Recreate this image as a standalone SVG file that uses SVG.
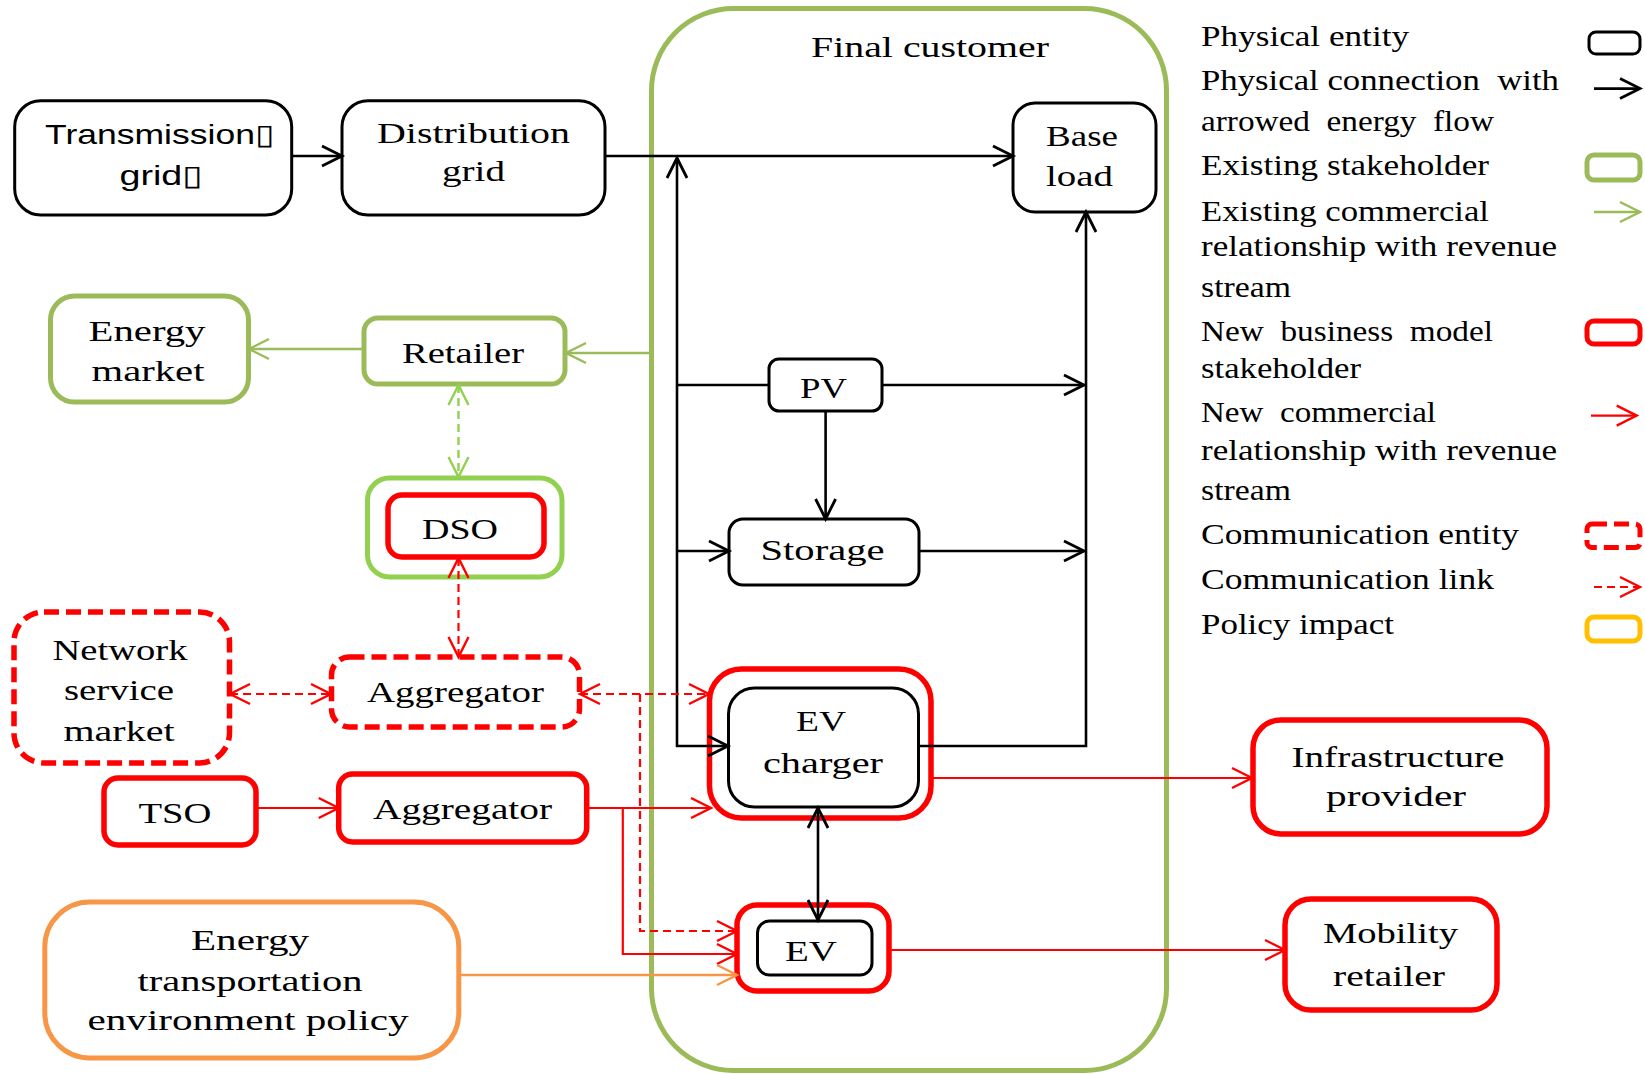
<svg xmlns="http://www.w3.org/2000/svg" width="1645" height="1074" viewBox="0 0 1645 1074">
<style>
text{font-family:"Liberation Serif","Times New Roman",serif;font-size:30px;fill:#000}
.m{text-anchor:middle}
.sans{font-family:"Liberation Sans",Arial,sans-serif;font-size:28px}
.bx{fill:#fff;stroke:#000;stroke-width:3}
.rx{fill:#fff;stroke:#f00;stroke-width:5.5}
.rd{fill:#fff;stroke:#f00;stroke-width:5.5;stroke-dasharray:15 7}
.gx{fill:#fff;stroke:#9BBB59;stroke-width:5}
.lgx{fill:#fff;stroke:#92D050;stroke-width:5}
.ox{fill:#fff;stroke:#F79646;stroke-width:5}
.cb{fill:none;stroke:#000;stroke-width:2.6}
.cr{fill:none;stroke:#f00;stroke-width:2.2}
.dash{stroke-dasharray:8 5}
.cg{fill:none;stroke:#9BBB59;stroke-width:2.4}
.clg{fill:none;stroke:#92D050;stroke-width:2.4}
.co{fill:none;stroke:#F79646;stroke-width:2.4}
</style>
<defs>
<marker id="ab" markerUnits="userSpaceOnUse" markerWidth="40" markerHeight="40" refX="0" refY="0" orient="auto-start-reverse" overflow="visible"><path d="M-20,-10 L0,0 L-20,10" fill="none" stroke="#000" stroke-width="2.8"/></marker>
<marker id="ar" markerUnits="userSpaceOnUse" markerWidth="40" markerHeight="40" refX="0" refY="0" orient="auto-start-reverse" overflow="visible"><path d="M-20,-10 L0,0 L-20,10" fill="none" stroke="#f00" stroke-width="2.4"/></marker>
<marker id="ag" markerUnits="userSpaceOnUse" markerWidth="40" markerHeight="40" refX="0" refY="0" orient="auto-start-reverse" overflow="visible"><path d="M-20,-10 L0,0 L-20,10" fill="none" stroke="#9BBB59" stroke-width="2.4"/></marker>
<marker id="alg" markerUnits="userSpaceOnUse" markerWidth="40" markerHeight="40" refX="0" refY="0" orient="auto-start-reverse" overflow="visible"><path d="M-20,-10 L0,0 L-20,10" fill="none" stroke="#92D050" stroke-width="2.4"/></marker>
<marker id="ao" markerUnits="userSpaceOnUse" markerWidth="40" markerHeight="40" refX="0" refY="0" orient="auto-start-reverse" overflow="visible"><path d="M-20,-10 L0,0 L-20,10" fill="none" stroke="#F79646" stroke-width="2.4"/></marker>
</defs>
<rect width="1645" height="1074" fill="#fff"/>

<g id="final-customer">
<rect x="651.5" y="8.5" width="515" height="1062" rx="82" fill="none" stroke="#9BBB59" stroke-width="5"/>
<text class="m" x="930" y="57" textLength="238" lengthAdjust="spacingAndGlyphs">Final customer</text>
</g>

<g id="transmission-grid">
<rect class="bx" x="14.7" y="100.7" width="277" height="114.3" rx="26"/>
<text class="m sans" x="159.5" y="144" textLength="229" lengthAdjust="spacingAndGlyphs">Transmission▯</text>
<text class="m sans" x="161" y="185" textLength="83" lengthAdjust="spacingAndGlyphs">grid▯</text>
</g>
<g id="distribution-grid">
<rect class="bx" x="342" y="100.7" width="263" height="114.3" rx="26"/>
<text class="m" x="473.5" y="143" textLength="193" lengthAdjust="spacingAndGlyphs">Distribution</text>
<text class="m" x="473.5" y="181" textLength="63" lengthAdjust="spacingAndGlyphs">grid</text>
</g>
<g id="base-load">
<rect class="bx" x="1013" y="103" width="143" height="109" rx="22"/>
<text x="1046" y="146" textLength="72" lengthAdjust="spacingAndGlyphs">Base</text>
<text x="1046" y="186" textLength="67" lengthAdjust="spacingAndGlyphs">load</text>
</g>
<g id="pv">
<rect class="bx" x="769" y="359" width="113" height="52" rx="10"/>
<text class="m" x="823.5" y="398" textLength="47" lengthAdjust="spacingAndGlyphs">PV</text>
</g>
<g id="storage">
<rect class="bx" x="729" y="519" width="190" height="66" rx="14"/>
<text class="m" x="822.5" y="560" textLength="124" lengthAdjust="spacingAndGlyphs">Storage</text>
</g>
<g id="ev-charger">
<rect class="rx" x="709.5" y="669" width="221.5" height="149" rx="32"/>
<rect class="bx" x="728.5" y="688" width="190" height="119" rx="26"/>
<text class="m" x="821" y="731" textLength="50" lengthAdjust="spacingAndGlyphs">EV</text>
<text class="m" x="823" y="773" textLength="120" lengthAdjust="spacingAndGlyphs">charger</text>
</g>
<g id="ev">
<rect class="rx" x="737" y="905" width="152" height="86" rx="20"/>
<rect class="bx" x="757.5" y="921" width="114.5" height="54" rx="12"/>
<text class="m" x="811" y="961" textLength="52" lengthAdjust="spacingAndGlyphs">EV</text>
</g>
<g id="infrastructure-provider">
<rect class="rx" x="1253" y="720" width="294" height="114" rx="28"/>
<text class="m" x="1398" y="767" textLength="213" lengthAdjust="spacingAndGlyphs">Infrastructure</text>
<text class="m" x="1396" y="806" textLength="140" lengthAdjust="spacingAndGlyphs">provider</text>
</g>
<g id="mobility-retailer">
<rect class="rx" x="1285" y="899" width="212" height="111" rx="26"/>
<text class="m" x="1390.5" y="943" textLength="135" lengthAdjust="spacingAndGlyphs">Mobility</text>
<text class="m" x="1389" y="986" textLength="112" lengthAdjust="spacingAndGlyphs">retailer</text>
</g>
<g id="energy-market">
<rect class="gx" x="50.5" y="296" width="198" height="106" rx="24"/>
<text class="m" x="147" y="341" textLength="117" lengthAdjust="spacingAndGlyphs">Energy</text>
<text class="m" x="148" y="381" textLength="113" lengthAdjust="spacingAndGlyphs">market</text>
</g>
<g id="retailer">
<rect class="gx" x="364" y="318" width="201" height="66" rx="14"/>
<text class="m" x="463" y="363" textLength="122" lengthAdjust="spacingAndGlyphs">Retailer</text>
</g>
<g id="dso">
<rect class="lgx" x="367.5" y="478" width="194.5" height="99" rx="22"/>
<rect class="rx" x="388" y="495" width="156" height="62" rx="14"/>
<text class="m" x="460" y="539" textLength="76" lengthAdjust="spacingAndGlyphs">DSO</text>
</g>
<g id="network-service-market">
<rect class="rd" x="14" y="612" width="215.5" height="151" rx="30"/>
<text class="m" x="120" y="660" textLength="135" lengthAdjust="spacingAndGlyphs">Network</text>
<text class="m" x="119" y="700" textLength="110" lengthAdjust="spacingAndGlyphs">service</text>
<text class="m" x="119" y="741" textLength="111" lengthAdjust="spacingAndGlyphs">market</text>
</g>
<g id="aggregator-communication">
<rect class="rd" x="331.5" y="657" width="248" height="70" rx="18"/>
<text class="m" x="455.5" y="702" textLength="177" lengthAdjust="spacingAndGlyphs">Aggregator</text>
</g>
<g id="tso">
<rect class="rx" x="104" y="778" width="152" height="67" rx="14"/>
<text class="m" x="175" y="823" textLength="73" lengthAdjust="spacingAndGlyphs">TSO</text>
</g>
<g id="aggregator">
<rect class="rx" x="338.7" y="774" width="248" height="68" rx="14"/>
<text class="m" x="462.5" y="819" textLength="179" lengthAdjust="spacingAndGlyphs">Aggregator</text>
</g>
<g id="policy">
<rect class="ox" x="44.8" y="902" width="414" height="156" rx="45"/>
<text class="m" x="250" y="950" textLength="118" lengthAdjust="spacingAndGlyphs">Energy</text>
<text class="m" x="250" y="991" textLength="225" lengthAdjust="spacingAndGlyphs">transportation</text>
<text class="m" x="248" y="1030" textLength="321" lengthAdjust="spacingAndGlyphs">environment policy</text>
</g>

<g id="connectors">
<path class="cb" d="M291.6,156 H342" marker-end="url(#ab)"/>
<path class="cb" d="M605,156 H1013" marker-end="url(#ab)"/>
<path class="cb" d="M728,746 H677 V158" marker-start="url(#ab)" marker-end="url(#ab)"/>
<path class="cb" d="M677,385 H769"/>
<path class="cb" d="M677,551 H729" marker-end="url(#ab)"/>
<path class="cb" d="M882,385 H1084" marker-end="url(#ab)"/>
<path class="cb" d="M825.6,411 V519" marker-end="url(#ab)"/>
<path class="cb" d="M919,551 H1084" marker-end="url(#ab)"/>
<path class="cb" d="M919,746 H1086 V212" marker-end="url(#ab)"/>
<path class="cb" d="M818,808 V920" marker-start="url(#ab)" marker-end="url(#ab)"/>
<path class="cr" d="M256,808 H338.7" marker-end="url(#ar)"/>
<path class="cr" d="M587,808 H711" marker-end="url(#ar)"/>
<path class="cr" d="M622.8,808 V954 H737" marker-end="url(#ar)"/>
<path class="cr" d="M932,778 H1252" marker-end="url(#ar)"/>
<path class="cr" d="M889,950 H1285" marker-end="url(#ar)"/>
<path class="cr dash" d="M230,694 H331" marker-start="url(#ar)" marker-end="url(#ar)"/>
<path class="cr dash" d="M580,694 H709" marker-start="url(#ar)" marker-end="url(#ar)"/>
<path class="cr dash" d="M640,694 V931 H737" marker-end="url(#ar)"/>
<path class="cr dash" d="M458.5,558 V657" marker-start="url(#ar)" marker-end="url(#ar)"/>
<path class="cg" d="M651,353 H566" marker-end="url(#ag)"/>
<path class="cg" d="M364,349 H249" marker-end="url(#ag)"/>
<path class="clg dash" d="M458.5,385 V477" marker-start="url(#alg)" marker-end="url(#alg)"/>
<path class="co" d="M459,975 H737" marker-end="url(#ao)"/>
</g>

<g id="legend">
<text x="1201" y="45.6" textLength="208" lengthAdjust="spacingAndGlyphs">Physical entity</text>
<text x="1201" y="90" textLength="358" lengthAdjust="spacingAndGlyphs" xml:space="preserve">Physical connection  with</text>
<text x="1201" y="131" textLength="293" lengthAdjust="spacingAndGlyphs" xml:space="preserve">arrowed  energy  flow</text>
<text x="1201" y="175" textLength="288" lengthAdjust="spacingAndGlyphs">Existing stakeholder</text>
<text x="1201" y="220.7" textLength="288" lengthAdjust="spacingAndGlyphs">Existing commercial</text>
<text x="1201" y="256" textLength="356" lengthAdjust="spacingAndGlyphs">relationship with revenue</text>
<text x="1201" y="296.6" textLength="90" lengthAdjust="spacingAndGlyphs">stream</text>
<text x="1201" y="341" textLength="292" lengthAdjust="spacingAndGlyphs" xml:space="preserve">New  business  model</text>
<text x="1201" y="377.6" textLength="160" lengthAdjust="spacingAndGlyphs">stakeholder</text>
<text x="1201" y="422" textLength="235" lengthAdjust="spacingAndGlyphs" xml:space="preserve">New  commercial</text>
<text x="1201" y="460" textLength="356" lengthAdjust="spacingAndGlyphs">relationship with revenue</text>
<text x="1201" y="500" textLength="90" lengthAdjust="spacingAndGlyphs">stream</text>
<text x="1201" y="544" textLength="318" lengthAdjust="spacingAndGlyphs">Communication entity</text>
<text x="1201" y="588.6" textLength="293" lengthAdjust="spacingAndGlyphs">Communication link</text>
<text x="1201" y="634" textLength="193" lengthAdjust="spacingAndGlyphs">Policy impact</text>
<rect x="1589" y="32" width="51" height="22" rx="7" fill="none" stroke="#000" stroke-width="3"/>
<path class="cb" d="M1594,88.6 H1640" marker-end="url(#ab)"/>
<rect x="1587" y="155" width="53" height="25" rx="7" fill="none" stroke="#9BBB59" stroke-width="5"/>
<path class="cg" d="M1594,212 H1640" marker-end="url(#ag)"/>
<rect x="1587" y="321" width="53" height="23" rx="7" fill="none" stroke="#f00" stroke-width="5"/>
<path class="cr" d="M1591,415.6 H1636.7" marker-end="url(#ar)"/>
<rect x="1587" y="524" width="53" height="23.5" rx="5" fill="none" stroke="#f00" stroke-width="5" stroke-dasharray="15 7"/>
<path class="cr dash" d="M1594,587 H1640" marker-end="url(#ar)"/>
<rect x="1587" y="617" width="53" height="24" rx="7" fill="none" stroke="#FFC000" stroke-width="5"/>
</g>
</svg>
